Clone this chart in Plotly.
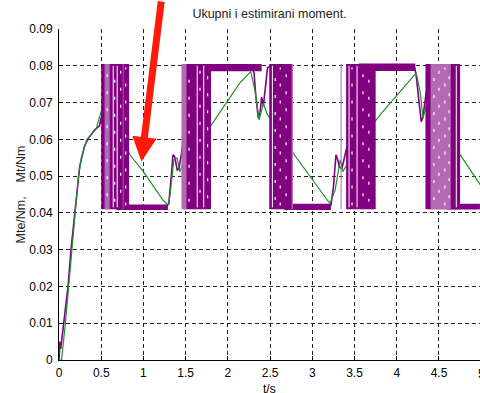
import plotly.graph_objects as go

# ---------------- data ----------------
# estimated torque Mte (green)
t_est = [0, 0.03, 0.076, 0.115, 0.15, 0.195, 0.23, 0.265, 0.33, 0.44, 0.51, 0.58, 0.66, 0.80, 0.84,
         1.0, 1.23, 1.27, 1.30, 1.33, 1.36, 1.40, 1.43, 1.48, 1.61, 1.75, 2.14, 2.27, 2.32, 2.37,
         2.42, 2.46, 2.73, 3.19, 3.21, 3.27, 3.33, 3.36, 3.41, 3.56, 3.80, 4.23, 4.28, 4.31, 4.36,
         4.39, 4.45, 4.63, 4.99]
m_est = [0, 0.0, 0.01, 0.02, 0.03, 0.04, 0.05, 0.055, 0.060, 0.0628, 0.0685, 0.065, 0.0621, 0.0579, 0.0558,
         0.0512, 0.0435, 0.0426, 0.0422, 0.048, 0.0544, 0.0549, 0.0512, 0.054, 0.0576, 0.0621, 0.0753, 0.0784, 0.0734, 0.0653,
         0.0698, 0.0671, 0.0576, 0.0431, 0.0426, 0.0462, 0.0544, 0.0512, 0.0531, 0.0594, 0.0666, 0.0781, 0.0725, 0.0658, 0.0698,
         0.068, 0.0662, 0.0599, 0.0476]

# measured torque Mt (purple) - continuous thin parts (None = gap)
t_mt = [0, 0.012, 0.02, 0.056, 0.107, 0.142, 0.186, 0.245, 0.30, 0.34, 0.42, 0.48, 0.50, None,
        1.28, 1.30, 1.33, 1.35, 1.37, 1.40, 1.42, 1.45, 1.47, None,
        2.29, 2.31, 2.33, 2.36, 2.38, 2.40, 2.42, 2.45, 2.47, 2.50, None,
        3.22, 3.25, 3.28, 3.30, 3.32, 3.35, 3.38, 3.41, None,
        4.21, 4.23, 4.26, 4.29, 4.31, 4.33, 4.35]
m_mt = [0, 0.005, 0.003, 0.010, 0.020, 0.030, 0.040, 0.0526, 0.058, 0.0600, 0.0625, 0.0637, 0.066, None,
        0.0420, 0.0425, 0.050, 0.0558, 0.0553, 0.0517, 0.0520, 0.0560, 0.0600, None,
        0.0795, 0.0780, 0.0720, 0.0658, 0.0670, 0.0715, 0.0690, 0.0760, 0.0795, 0.0797, None,
        0.0420, 0.0470, 0.0558, 0.0545, 0.0525, 0.0520, 0.0550, 0.0580, None,
        0.0797, 0.0775, 0.0710, 0.0648, 0.0660, 0.0700, 0.0730]

# fast switching blocks of Mt (dense purple)
block_start = [0.50, 1.47, 2.49, 3.40, 4.34]
block_end = [0.83, 1.80, 2.76, 3.75, 4.75]
block_low = [0.041, 0.041, 0.041, 0.041, 0.041]
block_high = [0.0805, 0.0805, 0.0805, 0.0805, 0.0805]

# chattering bands of Mt at the lower / upper limit
band_start = [0.68, 2.67, 4.59, 1.50, 3.55]
band_end = [1.29, 3.22, 4.985, 2.40, 4.22]
band_low = [0.0408, 0.0408, 0.0409, 0.0785, 0.0786]
band_high = [0.0423, 0.0425, 0.0425, 0.0805, 0.0806]

# lighter purple strokes inside / next to blocks
light_start = [0.54, 0.755, 1.45, 2.755, 3.335, 4.40]
light_end = [0.60, 0.765, 1.51, 2.770, 3.347, 4.64]

# white full-height gaps in the blocks
gap_t = [0.642, 0.689, 1.637, 1.714, 2.527, 3.435, 3.53, 4.705]
# white broken strokes (speckles) in the blocks
speck_t = [0.57, 0.66, 0.73, 0.79, 1.54, 1.67, 1.76, 2.56, 2.62, 2.69,
           3.47, 3.60, 3.67, 4.44, 4.50, 4.57, 4.62]
speck_y0 = [0.0445, 0.043, 0.0455, 0.042, 0.043, 0.0455, 0.044, 0.0435, 0.042, 0.0445,
            0.042, 0.0445, 0.043, 0.0435, 0.0455, 0.042, 0.044]

x_ticks = [0, 0.5, 1, 1.5, 2, 2.5, 3, 3.5, 4, 4.5]
x_ticktext = ["0", "0.5", "1", "1.5", "2", "2.5", "3", "3.5", "4", "4.5"]
y_ticks = [0, 0.01, 0.02, 0.03, 0.04, 0.05, 0.06, 0.07, 0.08, 0.09]
y_ticktext = ["0", "0.01", "0.02", "0.03", "0.04", "0.05", "0.06", "0.07", "0.08", "0.09"]
last_tick_text = "5"

title_text = "Ukupni i estimirani moment."
x_label = "t/s"
y_label = "Mte/Nm,\u00a0\u00a0\u00a0\u00a0Mt/Nm"

DARK = "#800080"
LIGHT = "#b36ab3"
GREEN = "#23902a"
FONT = "Arial, Liberation Sans, sans-serif"
X_END = 421 / 84.44


def rects(s_list, e_list, lo_list, hi_list):
    xs, ys = [], []
    for s, e, lo, hi in zip(s_list, e_list, lo_list, hi_list):
        xs += [s, e, e, s, s, None]
        ys += [lo, lo, hi, hi, lo, None]
    return xs, ys


def vlines(t_list, y0_list, y1):
    xs, ys = [], []
    for t, y0 in zip(t_list, y0_list):
        xs += [t, t, None]
        ys += [y0, y1, None]
    return xs, ys


fig = go.Figure()

fig.add_trace(go.Scatter(x=t_mt, y=m_mt, mode="lines", line=dict(color=DARK, width=1.6),
                         connectgaps=False, hoverinfo="skip", showlegend=False))
fig.add_trace(go.Scatter(x=t_est, y=m_est, mode="lines", line=dict(color=GREEN, width=1.2),
                         hoverinfo="skip", showlegend=False))

bx, by = rects(band_start, band_end, band_low, band_high)
fig.add_trace(go.Scatter(x=bx, y=by, mode="lines", fill="toself", fillcolor=DARK,
                         line=dict(width=0, color=DARK), hoverinfo="skip", showlegend=False))
kx, ky = rects(block_start, block_end, block_low, block_high)
fig.add_trace(go.Scatter(x=kx, y=ky, mode="lines", fill="toself", fillcolor=DARK,
                         line=dict(width=0, color=DARK), hoverinfo="skip", showlegend=False))
lx, ly = rects(light_start, light_end, [0.041] * len(light_start), [0.0805] * len(light_start))
fig.add_trace(go.Scatter(x=lx, y=ly, mode="lines", fill="toself", fillcolor=LIGHT,
                         line=dict(width=0, color=LIGHT), hoverinfo="skip", showlegend=False))
gx, gy = vlines(gap_t, [0.0415] * len(gap_t), 0.080)
fig.add_trace(go.Scatter(x=gx, y=gy, mode="lines", line=dict(color="white", width=1),
                         hoverinfo="skip", showlegend=False))
sx, sy = vlines(speck_t, speck_y0, 0.0795)
fig.add_trace(go.Scatter(x=sx, y=sy, mode="lines",
                         line=dict(color="white", width=1.2, dash="3px,14px"),
                         hoverinfo="skip", showlegend=False))

axis_font = dict(family=FONT, size=12, color="black")
fig.update_layout(
    width=480, height=393,
    margin=dict(l=59, r=0, t=29, b=33),
    paper_bgcolor="white", plot_bgcolor="white",
    font=axis_font,
    title=dict(text=title_text, x=0.5, xref="paper", xanchor="center",
               y=1 - 14 / 393, yref="container", yanchor="middle",
               font=dict(family=FONT, size=12.5, color="#222")),
    xaxis=dict(range=[0, X_END], tickvals=x_ticks, ticktext=x_ticktext,
               showgrid=True, gridcolor="#222", griddash="4px,3px", gridwidth=1,
               zeroline=False, showline=True, linecolor="black", linewidth=1,
               ticks="inside", ticklen=4, tickcolor="black", tickfont=axis_font,
               ticklabelstandoff=2),
    yaxis=dict(range=[0, 0.09], tickvals=y_ticks, ticktext=y_ticktext,
               showgrid=True, gridcolor="#222", griddash="4px,3px", gridwidth=1,
               zeroline=False, showline=True, linecolor="black", linewidth=1,
               ticks="inside", ticklen=4, tickcolor="black", tickfont=axis_font,
               ticklabelstandoff=3),
)

# partially visible last tick label (x = 5 lies just past the right edge)
fig.add_annotation(x=1, y=0, xref="paper", yref="paper", text=last_tick_text, showarrow=False,
                   xanchor="center", yanchor="top", xshift=(5 - X_END) * 84.44, yshift=-5,
                   font=axis_font)
# axis titles
fig.add_annotation(x=0.5, y=0, xref="paper", yref="paper", text=x_label, showarrow=False,
                   xanchor="center", yanchor="top", yshift=-20, font=axis_font)
fig.add_annotation(x=0, y=0.5, xref="paper", yref="paper", text=y_label, showarrow=False,
                   textangle=-90, xanchor="center", yanchor="middle", xshift=-39,
                   font=dict(family=FONT, size=12.5, color="#222"))
# red arrow
fig.add_annotation(x=0.976, y=0.05396, xref="x", yref="y", text="", showarrow=True,
                   ax=20, ay=-170, arrowcolor="#ff1a0a", arrowwidth=7, arrowhead=2,
                   arrowsize=0.7, standoff=0)

fig.write_html("out.html", config={"displayModeBar": False},
               post_script="document.body.style.margin='0';document.body.style.overflow='hidden';")
